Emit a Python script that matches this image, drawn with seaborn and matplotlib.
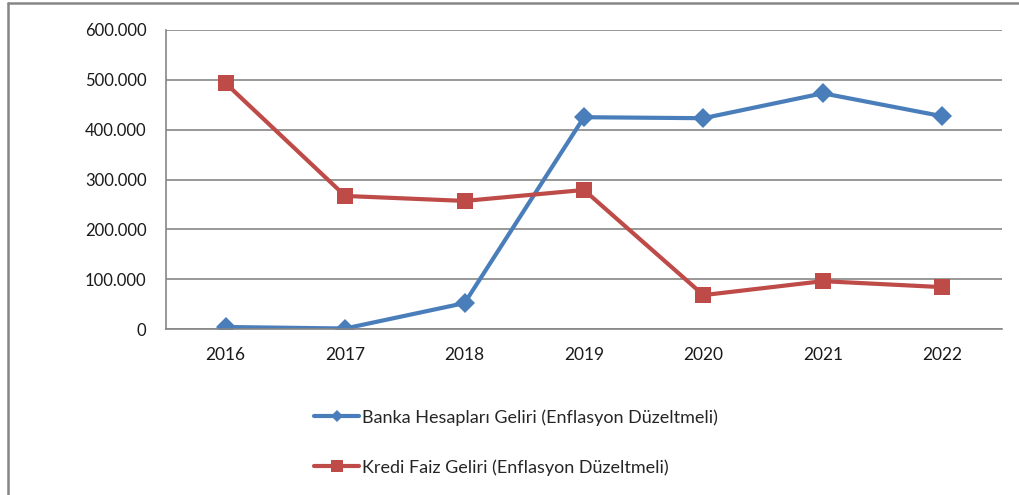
import pandas as pd
import matplotlib.pyplot as plt
import matplotlib.ticker as mticker
from matplotlib.lines import Line2D
import seaborn as sns

# values (thousands of TL, inflation adjusted)
years = ['2016', '2017', '2018', '2019', '2020', '2021', '2022']
banka = [4000, 1000, 52000, 425000, 423000, 473000, 427000]
kredi = [493000, 267000, 257000, 279000, 68000, 96000, 84000]
label_banka = 'Banka Hesapları Geliri (Enflasyon Düzeltmeli)'
label_kredi = 'Kredi Faiz Geliri (Enflasyon Düzeltmeli)'

df = pd.DataFrame({
    'Yil': years * 2,
    'Deger': banka + kredi,
    'Seri': [label_banka] * len(years) + [label_kredi] * len(years),
})

sns.set_style("white")
plt.rcParams['font.family'] = ['Lato', 'DejaVu Sans']

grid_col = '#868686'
fig = plt.figure(figsize=(10.19, 4.95), dpi=100)
ax = fig.add_axes([166 / 1019, 1 - 329 / 495, (1002 - 166) / 1019, (329 - 30) / 495])

ax = sns.lineplot(data=df, x='Yil', y='Deger', hue='Seri', style='Seri',
                  palette=['#4A7EBB', '#BE4B48'], markers=['D', 's'], dashes=False,
                  linewidth=3, markeredgewidth=0, ax=ax, legend=False)
for ln, ms in zip(ax.lines, [10, 11.5]):
    ln.set_markersize(ms)

ax.set_xlim(-0.5, len(years) - 0.5)
ax.set_ylim(0, 600000)
ax.yaxis.set_major_locator(mticker.MultipleLocator(100000))
ax.yaxis.set_major_formatter(mticker.FuncFormatter(
    lambda v, p: '0' if v == 0 else '{:,.0f}'.format(v).replace(',', '.')))
ax.set_xticks(range(len(years)))
ax.set_xticklabels(years)
ax.set_xticks([i - 0.5 for i in range(len(years) + 1)], minor=True)
ax.tick_params(axis='x', which='major', length=0, pad=13, labelsize=12.5, colors='#1a1a1a')
ax.tick_params(axis='x', which='minor', length=5, width=1.2, color=grid_col, direction='out')
ax.tick_params(axis='y', length=5, width=1.2, direction='out', pad=9,
               labelsize=12, colors='#1a1a1a')
ax.tick_params(axis='y', color=grid_col)
ax.tick_params(axis='x', which='minor', color=grid_col)
ax.grid(axis='y', color=grid_col, linewidth=1.2)
ax.set_axisbelow(True)
for s in ['top', 'right']:
    ax.spines[s].set_visible(False)
for s in ['left', 'bottom']:
    ax.spines[s].set_color(grid_col)
    ax.spines[s].set_linewidth(1.2)
ax.set_xlabel('')
ax.set_ylabel('')

handles = [Line2D([], [], color='#4A7EBB', lw=3, marker='D', ms=6, mew=0),
           Line2D([], [], color='#BE4B48', lw=3, marker='s', ms=8, mew=0)]
fig.legend(handles, [label_banka, label_kredi], loc='upper left',
           bbox_to_anchor=(307 / 1019, 1 - 402 / 495), frameon=False,
           fontsize=13, labelspacing=1.85, handlelength=2.5, handletextpad=0.15,
           borderaxespad=0)

# outer chart frame (left and top edges are visible in the reference)
fig.add_artist(Line2D([7.5 / 1019, 7.5 / 1019], [0, 1 - 3 / 495], color=grid_col,
                      lw=1.8, transform=fig.transFigure))
fig.add_artist(Line2D([7.5 / 1019, 1], [1 - 3 / 495, 1 - 3 / 495], color=grid_col,
                      lw=1.8, transform=fig.transFigure))

plt.savefig('out.png', dpi=100)
